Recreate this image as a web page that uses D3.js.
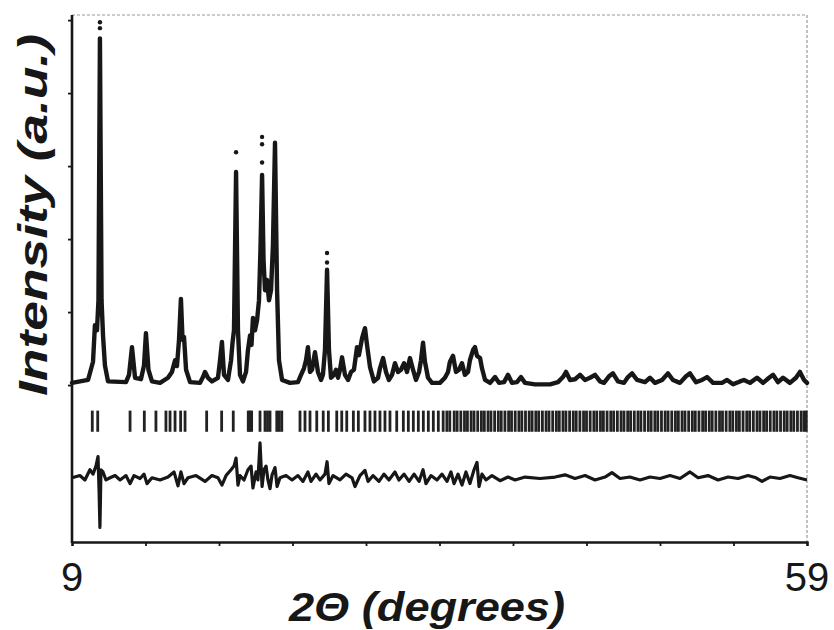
<!DOCTYPE html>
<html>
<head>
<meta charset="utf-8">
<script src="https://cdn.jsdelivr.net/npm/d3@7"></script>
<style>
  html, body { margin: 0; padding: 0; background: #ffffff; }
  svg { display: block; }
</style>
</head>
<body>
<svg id="chart" width="834" height="630"></svg>
<script>
// ---------- data (2θ in degrees, intensity in arbitrary units) ----------
// calculated / observed profile vertices
const profile = [
  [9.00,0.03],[10.09,0.07],[10.43,0.32],[10.56,0.82],[10.70,0.75],[10.80,1.16],[10.90,4.75],[11.01,1.16],[11.11,0.68],[11.24,0.27],[11.45,0.05],
  [12.67,0.04],[12.88,0.14],[13.08,0.52],[13.29,0.10],
  [13.69,0.08],[13.90,0.27],[14.03,0.71],[14.20,0.21],[14.44,0.05],
  [14.99,0.03],[15.53,0.10],[15.80,0.18],[16.01,0.34],[16.14,0.26],[16.28,0.62],[16.41,1.18],[16.52,0.62],[16.62,0.66],[16.76,0.21],[17.03,0.04],
  [17.71,0.03],[17.91,0.11],[18.05,0.18],[18.25,0.10],[18.52,0.05],
  [18.93,0.10],[19.07,0.34],[19.20,0.59],[19.34,0.14],[19.61,0.07],
  [19.82,0.34],[19.92,0.58],[20.02,0.75],[20.16,2.92],[20.29,0.75],[20.43,0.14],[20.63,0.05],
  [20.84,0.18],[20.97,0.48],[21.11,0.68],[21.21,0.55],[21.31,0.92],[21.45,0.75],[21.59,0.89],[21.72,1.16],[21.82,1.85],[21.93,2.88],[22.03,1.71],
  [22.13,1.30],[22.27,1.44],[22.40,1.16],[22.54,1.30],[22.67,1.92],[22.81,3.32],[22.95,1.30],[23.08,0.34],[23.29,0.07],
  [23.83,0.03],[24.37,0.04],[24.58,0.14],[24.78,0.23],[24.92,0.34],[25.05,0.52],[25.19,0.18],[25.33,0.21],[25.53,0.45],[25.73,0.18],[25.94,0.07],
  [26.07,0.14],[26.21,0.48],[26.35,1.58],[26.48,0.48],[26.62,0.10],[26.82,0.14],[26.96,0.21],[27.10,0.10],[27.23,0.21],[27.37,0.38],[27.57,0.14],[27.78,0.07],
  [27.98,0.18],[28.18,0.21],[28.39,0.52],[28.52,0.41],[28.73,0.64],[28.93,0.78],[29.07,0.55],[29.27,0.25],[29.54,0.05],
  [29.82,0.10],[29.95,0.23],[30.16,0.37],[30.36,0.18],[30.56,0.07],[30.77,0.14],[30.97,0.30],[31.18,0.18],[31.38,0.21],[31.59,0.30],[31.79,0.18],
  [31.99,0.37],[32.20,0.21],[32.40,0.07],[32.61,0.18],[32.74,0.34],[32.88,0.58],[33.01,0.32],[33.22,0.10],[33.49,0.03],
  [34.03,0.03],[34.37,0.10],[34.58,0.18],[34.71,0.32],[34.92,0.40],[35.12,0.18],[35.33,0.21],[35.53,0.30],[35.73,0.14],[35.94,0.18],[36.07,0.34],
  [36.28,0.48],[36.41,0.52],[36.55,0.40],[36.76,0.37],[36.89,0.23],[37.10,0.07],
  [37.44,0.03],[37.78,0.11],[38.05,0.03],[38.39,0.04],[38.66,0.14],[38.93,0.03],[39.27,0.04],[39.54,0.11],[39.82,0.03],[40.50,0.01],[41.52,0.01],
  [42.06,0.04],[42.40,0.11],[42.61,0.18],[42.88,0.07],[43.22,0.08],[43.56,0.14],[43.90,0.07],[44.24,0.10],[44.58,0.14],[44.92,0.05],[45.19,0.03],
  [45.53,0.12],[45.80,0.16],[46.14,0.05],[46.55,0.03],[46.82,0.11],[47.10,0.16],[47.44,0.07],[47.98,0.04],[48.32,0.10],[48.66,0.03],[49.14,0.07],
  [49.54,0.16],[49.88,0.07],[50.36,0.03],[50.77,0.12],[51.04,0.16],[51.45,0.04],[51.86,0.07],[52.20,0.11],[52.61,0.03],[53.22,0.03],[53.56,0.07],
  [53.97,0.01],[54.44,0.05],[54.71,0.07],[55.12,0.03],[55.60,0.10],[56.01,0.03],[56.42,0.10],[56.69,0.14],[57.03,0.04],[57.37,0.10],[57.84,0.03],
  [58.25,0.10],[58.52,0.18],[58.80,0.07],[59.00,0.03]
];

// observed points lying above the calculated peak tops
const obsDots = [
  [10.90,4.97],[10.90,4.89],[20.16,3.19],[21.93,3.40],[21.93,3.30],[21.93,3.05],[26.35,1.81],[26.35,1.68]
];

// Bragg reflection positions (2θ)
const reflections = [
  10.38,10.75,12.95,13.92,14.71,15.39,15.67,16.01,16.39,16.69,18.16,19.18,19.97,20.99,21.10,21.22,21.79,22.13,22.30,22.47,22.93,23.10,23.27,
  24.51,24.85,25.19,25.65,26.09,26.44,27.01,27.35,27.69,28.14,28.48,28.93,29.27,29.61,29.95,30.29,30.63,31.09,31.54,31.88,32.22,32.56,32.90,
  33.24,33.58,33.92,34.25,34.50,34.70,35.00,35.20,35.45,35.70,35.90,36.15,36.35,36.60,36.85,37.05,37.30,37.50,37.75,38.00,38.20,38.45,38.70,
  38.90,39.15,39.40,39.60,39.85,40.10,40.30,40.55,40.75,41.00,41.25,41.45,41.70,41.95,42.15,42.40,42.60,42.85,43.10,43.30,43.55,43.80,44.00,
  44.25,44.50,44.70,44.95,45.15,45.40,45.65,45.85,46.10,46.35,46.55,46.80,47.00,47.25,47.50,47.70,47.95,48.20,48.40,48.65,48.85,49.10,49.35,
  49.55,49.80,50.05,50.25,50.50,50.70,50.95,51.20,51.40,51.65,51.90,52.10,52.35,52.55,52.80,53.05,53.25,53.50,53.75,53.95,54.20,54.40,54.65,
  54.90,55.10,55.35,55.60,55.80,56.05,56.25,56.50,56.75,56.95,57.20,57.45,57.65,57.90,58.10,58.35,58.60,58.80,58.95
];
const reflectionBand = [-0.35, -0.64];

// difference curve (obs - calc), drawn shifted by diffOffset
const diffOffset = -1.27;
const diff = [
  [9.00,0],[9.54,0.03],[9.88,-0.03],[10.22,0.11],[10.43,0.05],[10.63,0.16],[10.77,0.29],[10.84,-0.16],[10.90,-0.68],[10.97,0.11],[11.11,0.08],
  [11.31,-0.03],[11.59,0],[11.93,0.03],[12.27,-0.03],[12.67,0.03],[12.95,-0.08],[13.22,0.03],[13.63,-0.01],[13.90,0.05],[14.10,-0.08],[14.44,0],
  [14.99,-0.03],[15.53,0.01],[15.94,0.08],[16.21,-0.11],[16.41,0.08],[16.62,-0.08],[16.89,0],[17.44,0.03],[18.05,-0.05],[18.52,0.03],[18.93,0],
  [19.20,-0.10],[19.48,0.03],[19.82,0.11],[20.02,0.16],[20.16,0.27],[20.29,-0.10],[20.43,0.03],[20.70,-0.03],[20.97,0.11],[21.18,0.16],[21.31,-0.14],
  [21.52,0.08],[21.65,-0.03],[21.79,0.48],[21.93,-0.12],[22.06,0.11],[22.20,0.16],[22.33,-0.03],[22.47,-0.15],[22.61,0.04],[22.81,0.14],[22.95,-0.12],
  [23.15,0],[23.56,0.03],[23.97,-0.03],[24.37,0.03],[24.71,-0.05],[25.05,0.08],[25.26,-0.05],[25.60,0.05],[25.87,-0.03],[26.21,0.05],[26.35,0.22],
  [26.48,-0.08],[26.76,0.03],[27.23,-0.03],[27.64,0.05],[28.05,0],[28.25,-0.12],[28.59,0.03],[28.93,0.10],[29.14,-0.05],[29.48,0.03],[29.88,-0.05],
  [30.22,0.05],[30.56,-0.03],[30.97,0.08],[31.24,-0.03],[31.59,0.05],[31.93,-0.05],[32.27,0.05],[32.61,-0.05],[32.88,0.11],[33.08,-0.08],[33.42,0.03],
  [33.83,-0.03],[34.17,0.05],[34.51,-0.05],[34.78,0.08],[34.99,-0.08],[35.26,0.05],[35.53,-0.10],[35.80,0.08],[36.07,-0.08],[36.35,0.11],[36.55,0.21],
  [36.69,-0.12],[36.89,0.05],[37.16,-0.03],[37.57,0.03],[38.12,-0.04],[38.66,0.01],[39.14,-0.03],[39.82,0.01],[40.84,-0.01],[41.86,0.01],[42.54,0.04],
  [43.22,-0.01],[43.90,0.03],[44.58,-0.03],[45.26,0.01],[45.73,0.07],[46.28,-0.01],[46.95,0.01],[47.64,-0.03],[48.32,0.01],[49.00,-0.01],[49.68,0.03],
  [50.36,-0.01],[51.04,0.08],[51.59,0],[52.27,0.03],[52.95,-0.03],[53.63,0.01],[54.31,-0.01],[54.99,0.03],[55.53,0],[55.94,-0.05],[56.48,0.01],
  [57.16,-0.01],[57.84,0.03],[58.39,0],[59.00,-0.03]
];

const xDomain = [9, 59];
const yDomain = [-2.15, 5.07];
const xTicks = [9, 14, 19, 24, 29, 34, 39, 44, 49, 54, 59];
const xTickLabels = [9, 59];
const yTicks = [0, 1, 2, 3, 4, 5];
const xTitle = "2\u0398 (degrees)";
const yTitle = "Intensity (a.u.)";

// ---------- drawing ----------
(function () {
const svg = d3.select("#chart");
const pL = 72, pR = 807, pT = 15, pB = 542;
const ink = "#171717";

const x = d3.scaleLinear().domain(xDomain).range([pL, pR]);
const y = d3.scaleLinear().domain(yDomain).range([pB, pT]);

svg.append("rect").attr("width", 834).attr("height", 630).attr("fill", "#ffffff");

// faint top and right frame
svg.append("line").attr("x1", pL).attr("x2", pR).attr("y1", pT).attr("y2", pT)
  .attr("stroke", "#9a9a9a").attr("stroke-width", 1.2).attr("stroke-dasharray", "3,2");
svg.append("line").attr("x1", pR).attr("x2", pR).attr("y1", pT).attr("y2", pB)
  .attr("stroke", "#9a9a9a").attr("stroke-width", 1.2).attr("stroke-dasharray", "3,2");

// reflection ticks
svg.append("g").selectAll("line").data(reflections).join("line")
  .attr("x1", d => x(d)).attr("x2", d => x(d))
  .attr("y1", y(reflectionBand[0])).attr("y2", y(reflectionBand[1]))
  .attr("stroke", "#222").attr("stroke-width", 2.8);

// difference curve
const line = d3.line().x(d => x(d[0])).y(d => y(d[1]));
svg.append("path").datum(diff.map(d => [d[0], d[1] + diffOffset]))
  .attr("d", line).attr("fill", "none").attr("stroke", ink)
  .attr("stroke-width", 3.2).attr("stroke-linejoin", "round");

// profile
svg.append("path").datum(profile)
  .attr("d", line).attr("fill", "none").attr("stroke", ink)
  .attr("stroke-width", 4.4).attr("stroke-linejoin", "round").attr("stroke-linecap", "round");

// observed points above peaks
svg.append("g").selectAll("circle").data(obsDots).join("circle")
  .attr("cx", d => x(d[0])).attr("cy", d => y(d[1])).attr("r", 2.2)
  .attr("fill", ink);

// axes
const xAxis = d3.axisBottom(x).tickValues(xTicks).tickSize(4).tickFormat("");
const gx = svg.append("g").attr("transform", `translate(0,${pB})`).call(xAxis);
gx.select(".domain").attr("stroke", ink).attr("stroke-width", 2.4);
gx.selectAll(".tick line").attr("stroke", ink).attr("stroke-width", 1.8);

const yAxis = d3.axisLeft(y).tickValues(yTicks).tickSize(4).tickFormat("");
const gy = svg.append("g").attr("transform", `translate(${pL},0)`).call(yAxis);
gy.select(".domain").remove();
gy.selectAll(".tick line").attr("stroke", ink).attr("stroke-width", 1.8);
svg.append("line").attr("x1", pL).attr("x2", pL).attr("y1", pT).attr("y2", pB + 1)
  .attr("stroke", ink).attr("stroke-width", 2.6);

// tick labels
svg.append("g").selectAll("text").data(xTickLabels).join("text")
  .attr("x", d => x(d)).attr("y", 591)
  .attr("text-anchor", "middle")
  .attr("font-family", "Liberation Sans, Arial, sans-serif")
  .attr("font-size", 40).attr("fill", ink)
  .text(d => d);

// titles
svg.append("text").attr("x", 427).attr("y", 621)
  .attr("text-anchor", "middle")
  .attr("font-family", "Liberation Sans, Arial, sans-serif")
  .attr("font-size", 40).attr("font-weight", "bold").attr("font-style", "italic")
  .attr("fill", ink)
  .attr("textLength", 276).attr("lengthAdjust", "spacingAndGlyphs")
  .text(xTitle);

svg.append("text").attr("transform", "translate(47,215) rotate(-90)")
  .attr("text-anchor", "middle")
  .attr("font-family", "Liberation Sans, Arial, sans-serif")
  .attr("font-size", 40).attr("font-weight", "bold").attr("font-style", "italic")
  .attr("fill", ink)
  .attr("textLength", 362).attr("lengthAdjust", "spacingAndGlyphs")
  .text(yTitle);
})();
</script>
</body>
</html>
